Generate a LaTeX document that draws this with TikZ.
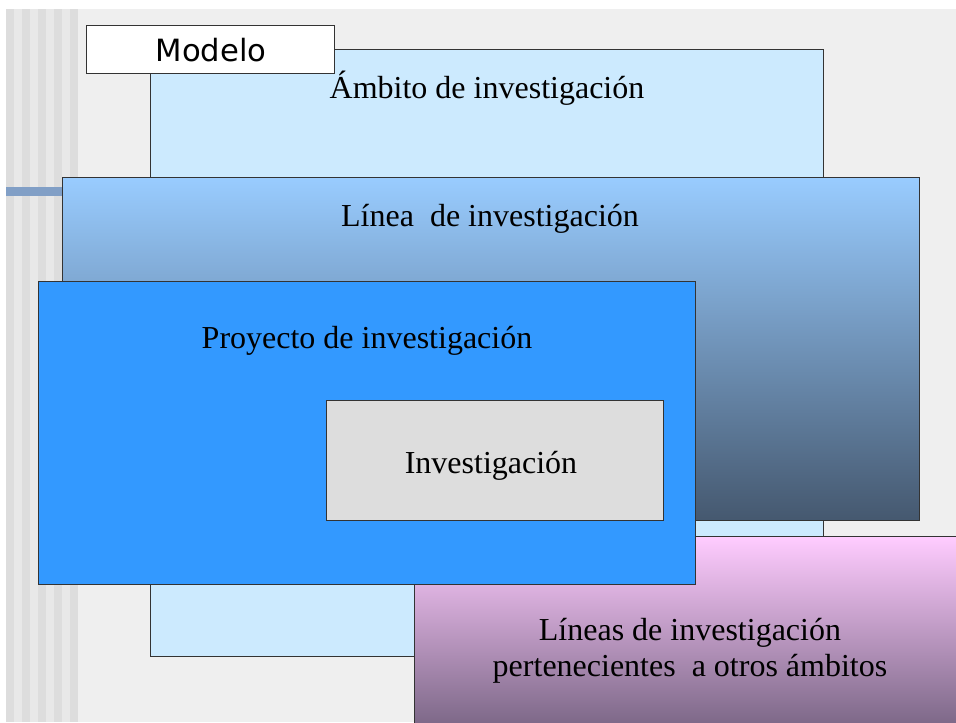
\documentclass[tikz,border=0pt]{standalone}
\usepackage{fontspec}
\setmainfont{Liberation Serif}
\newfontfamily\modelofont{DejaVu Sans}
\usetikzlibrary{positioning}

\definecolor{ambitoblue}{HTML}{CCEAFE}
\definecolor{lineatop}{HTML}{99CCFF}
\definecolor{lineabot}{HTML}{45586F}
\definecolor{proyblue}{HTML}{3399FF}
\definecolor{invgray}{HTML}{DDDDDD}
\definecolor{pinktop}{HTML}{FFCCFF}
\definecolor{pinkbot}{HTML}{7D6888}
\definecolor{bgtex}{HTML}{EFEFEF}
\definecolor{stripelight}{HTML}{E8E8E8}
\definecolor{stripedark}{HTML}{DDDDDD}
\definecolor{barblue}{HTML}{819FC6}

\tikzset{
  box/.style={draw=black!80, line width=0.75pt, anchor=north west, inner sep=0pt},
  label/.style={font=\fontsize{24}{27}\selectfont, align=center, inner sep=0pt}
}

\begin{document}
\begin{tikzpicture}[x=0.75pt, y=-0.75pt]
  % page and background
  \clip (0,0) rectangle (956,722);
  \fill[white] (0,0) rectangle (956,722);
  \fill[bgtex] (6,9) rectangle (956,722);
  \fill[stripelight] (6,9) rectangle (78,722);
  \foreach \xa in {6,22,...,70}
    \fill[stripedark] (\xa,9) rectangle ++(8,713);
  \fill[barblue] (6,187) rectangle (62,196);

  % boxes
  \node[box, fill=ambitoblue, minimum width=673*0.75pt, minimum height=607*0.75pt] (ambito) at (150,49) {};
  \node[box, top color=lineatop, bottom color=lineabot, minimum width=857*0.75pt, minimum height=343*0.75pt] (linea) at (62,177) {};
  \node[box, top color=pinktop, bottom color=pinkbot, minimum width=560*0.75pt, minimum height=188*0.75pt] (otros) at (414,536) {};
  \node[box, fill=proyblue, minimum width=657*0.75pt, minimum height=303*0.75pt] (proyecto) at (38,281) {};
  \node[box, fill=invgray, minimum width=337*0.75pt, minimum height=120*0.75pt] (investig) at (326,400) {};
  \node[box, fill=white, minimum width=248*0.75pt, minimum height=48*0.75pt] (modelo) at (86,25) {};

  % texts
  \node[label] (ambitotxt) at (487,88) {Ámbito de investigación};
  \node[label] (lineatxt) at (490,219) {Línea\ \ de investigación};
  \node[label] (proytxt) at (367,341) {Proyecto de investigación};
  \node[label] (invtxt) at (491,466) {Investigación};
  \node[label] (otrostxt) at (690,651) {Líneas de investigación\\pertenecientes\ \ a otros ámbitos};
  \node[font=\modelofont\fontsize{23}{27}\selectfont, inner sep=0pt] (modelotxt) at (211,50) {Modelo};
\end{tikzpicture}
\end{document}
